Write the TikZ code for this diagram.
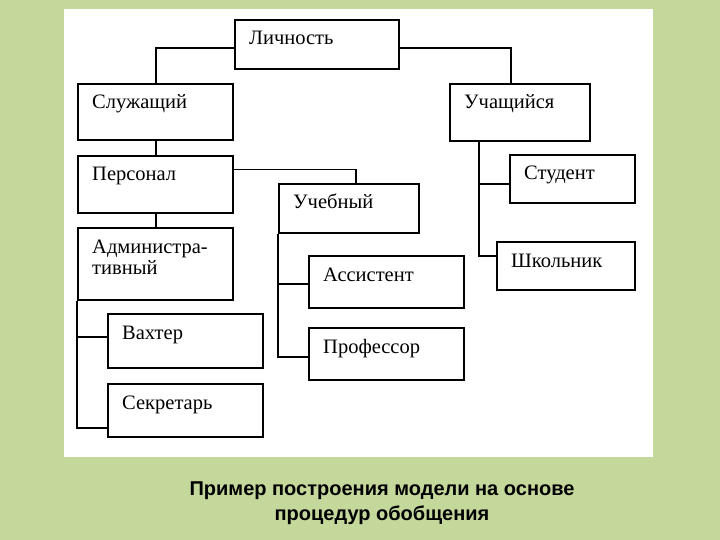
\documentclass[tikz,border=0pt]{standalone}
\usepackage{fontspec}
\setmainfont{Liberation Serif}
\newfontfamily\capfont{Liberation Sans}
\usetikzlibrary{positioning,calc}
\definecolor{slidegreen}{RGB}{197,216,155}

\begin{document}
\begin{tikzpicture}[x=1pt, y=-1pt,
  frame/.style={draw, line width=2.2pt, anchor=north west, inner sep=0pt},
  box/.style={frame, label={[lbl]north west:#1}},
  box2/.style={frame, label={[lbl, yshift=-21pt]north west:#1}},
  lbl/.style={anchor=base west, xshift=15pt, yshift=-26pt, inner sep=0pt, align=left,
    font=\fontsize{20.5}{21}\selectfont},
  link/.style={line width=1.8pt},
  caption/.style={font=\capfont\bfseries\fontsize{20}{25}\selectfont, align=center, anchor=base}
]
  % slide and white panel
  \fill[slidegreen] (0,0) rectangle (720,540);
  \fill[white] (64,9) rectangle (653,457);

  % boxes
  \node[box=Личность, minimum width=164, minimum height=49] (lich) at (234,19) {};
  \node[box=Служащий, minimum width=155, minimum height=56] (sluzh) at (77,83) {};
  \node[box=Персонал, minimum width=155, minimum height=57] (pers) at (77,155) {};
  \node[box2={Администра-\\тивный}, minimum width=155, minimum height=72] (adm) at (77,227) {};
  \node[box=Вахтер, minimum width=155, minimum height=54] (vaht) at (107,313) {};
  \node[box=Секретарь, minimum width=155, minimum height=53] (sekr) at (107,383) {};
  \node[box=Учебный, minimum width=140, minimum height=49] (ucheb) at (278,183) {};
  \node[box=Ассистент, minimum width=155, minimum height=52] (asst) at (308,255) {};
  \node[box=Профессор, minimum width=155, minimum height=52] (prof) at (308,327) {};
  \node[box=Учащийся, minimum width=140, minimum height=57] (uch) at (449,83) {};
  \node[box=Студент, minimum width=125, minimum height=48] (stud) at (509,154) {};
  \node[box=Школьник, minimum width=138, minimum height=48] (shk) at (496,241) {};

  % connectors
  \draw[link] ([yshift=-3.5pt]lich.west) -| (sluzh.north);
  \draw[link] ([yshift=-3.5pt]lich.east) -| ([xshift=-9pt]uch.north);
  \draw[link] (sluzh.south) -- (pers.north);
  \draw[link] (pers.south) -- (adm.north);
  \draw[link] ([yshift=15pt]pers.east) -| ([xshift=7pt]ucheb.north);

  \draw[link] (adm.south west) |- ([yshift=4pt]vaht.west);
  \draw[link] (adm.south west) |- ([yshift=-17pt]sekr.west);

  \draw[link] (ucheb.south west) |- ([yshift=-2pt]asst.west);
  \draw[link] (ucheb.south west) |- ([yshift=-3pt]prof.west);

  \coordinate (uchTrunk) at ($(uch.south west)+(30,0)$);
  \draw[link] (uchTrunk) |- ([yshift=-5pt]stud.west);
  \draw[link] (uchTrunk) |- ([yshift=10pt]shk.west);

  % caption
  \node[caption] (cap) at (382,520) {Пример построения модели на основе\\процедур обобщения};
\end{tikzpicture}
\end{document}
